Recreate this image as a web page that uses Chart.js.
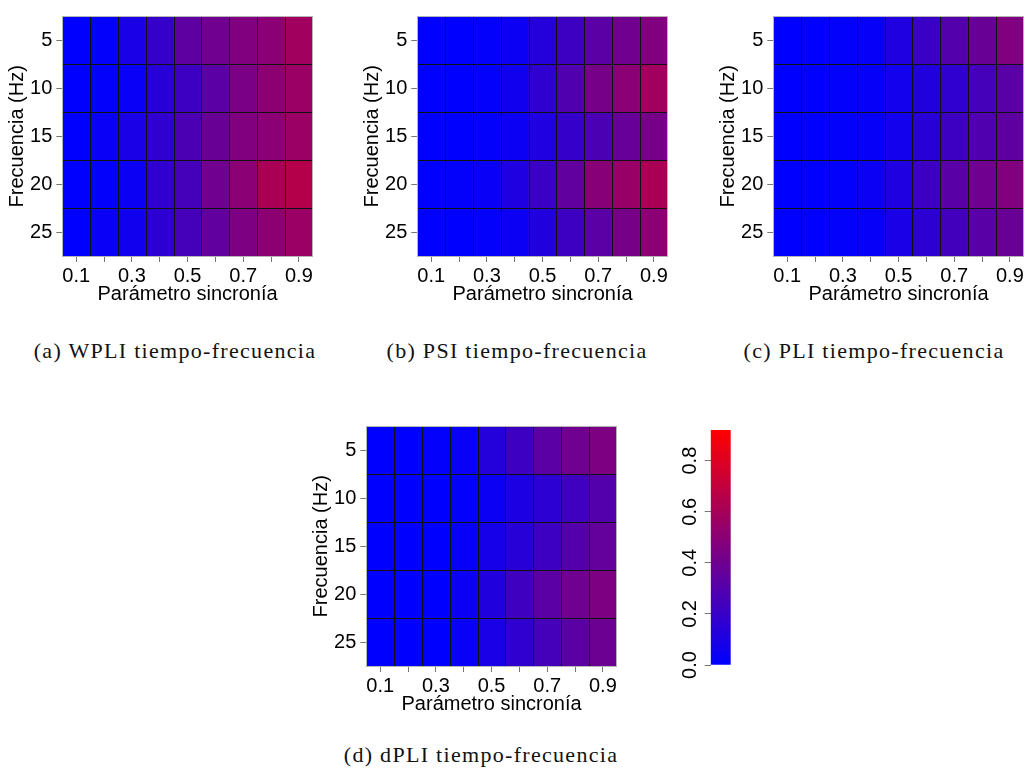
<!DOCTYPE html>
<html>
<head>
<meta charset="utf-8">
<script src="https://cdn.jsdelivr.net/npm/chart.js@4.4.1/dist/chart.umd.min.js"></script>
<style>
body { margin:0; width:1026px; height:774px; background:#fff; position:relative; overflow:hidden; }
canvas { position:absolute; }
.cap { position:absolute; font-family:'Liberation Serif','Times New Roman',serif; font-size:22px; letter-spacing:1.3px; color:#111; white-space:nowrap; transform:translateX(-50%); line-height:1; }
</style>
</head>
<body>
<canvas id="wpli" width="325" height="320" style="left:0px;top:0px"></canvas>
<canvas id="psi" width="325" height="320" style="left:355.4px;top:0px"></canvas>
<canvas id="pli" width="315" height="320" style="left:711px;top:0px"></canvas>
<canvas id="dpli" width="325" height="320" style="left:304.4px;top:409.7px"></canvas>
<canvas id="cbar" width="100" height="260" style="left:640px;top:420px"></canvas>

<div class="cap" style="left:175px;top:340px">(a) WPLI tiempo-frecuencia</div>
<div class="cap" style="left:517px;top:340px">(b) PSI tiempo-frecuencia</div>
<div class="cap" style="left:874px;top:340px">(c) PLI tiempo-frecuencia</div>
<div class="cap" style="left:481px;top:744px">(d) dPLI tiempo-frecuencia</div>

<script>
// axes
var syncLabels = ['0.1', '0.2', '0.3', '0.4', '0.5', '0.6', '0.7', '0.8', '0.9'];
var freqs = [5, 10, 15, 20, 25];
var cbTicks = [0, 0.2, 0.4, 0.6, 0.8];
var cbMax = 0.92;

// one row per frequency (5..25 Hz), one column per synchrony parameter
var wpliVals = [
	[0.00, 0.01, 0.09, 0.19, 0.34, 0.40, 0.46, 0.50, 0.58],
	[0.00, 0.01, 0.03, 0.14, 0.22, 0.33, 0.44, 0.51, 0.56],
	[0.00, 0.03, 0.09, 0.17, 0.27, 0.38, 0.46, 0.50, 0.56],
	[0.00, 0.01, 0.04, 0.17, 0.25, 0.40, 0.50, 0.61, 0.65],
	[0.00, 0.03, 0.06, 0.16, 0.25, 0.35, 0.45, 0.51, 0.56]
];
var psiVals = [
	[0.00, 0.00, 0.01, 0.04, 0.13, 0.22, 0.33, 0.40, 0.46],
	[0.00, 0.00, 0.01, 0.06, 0.17, 0.29, 0.43, 0.50, 0.58],
	[0.00, 0.00, 0.01, 0.04, 0.11, 0.19, 0.27, 0.37, 0.43],
	[0.00, 0.01, 0.03, 0.11, 0.21, 0.35, 0.49, 0.55, 0.61],
	[0.00, 0.00, 0.01, 0.04, 0.12, 0.22, 0.33, 0.43, 0.50]
];
var pliVals = [
	[0.00, 0.00, 0.01, 0.02, 0.11, 0.21, 0.30, 0.38, 0.46],
	[0.00, 0.00, 0.01, 0.02, 0.07, 0.12, 0.17, 0.25, 0.32],
	[0.00, 0.00, 0.01, 0.02, 0.07, 0.14, 0.22, 0.29, 0.34],
	[0.00, 0.00, 0.01, 0.04, 0.11, 0.22, 0.32, 0.40, 0.47],
	[0.00, 0.00, 0.01, 0.02, 0.09, 0.16, 0.24, 0.32, 0.38]
];
var dpliVals = [
	[0.00, 0.00, 0.01, 0.03, 0.13, 0.22, 0.33, 0.40, 0.45],
	[0.00, 0.00, 0.00, 0.01, 0.04, 0.10, 0.16, 0.23, 0.30],
	[0.00, 0.00, 0.00, 0.02, 0.08, 0.14, 0.22, 0.30, 0.36],
	[0.00, 0.00, 0.00, 0.04, 0.12, 0.23, 0.33, 0.40, 0.45],
	[0.00, 0.00, 0.00, 0.03, 0.09, 0.17, 0.25, 0.33, 0.39]
];

Chart.defaults.font.family = "'Liberation Sans', Arial, sans-serif";
Chart.defaults.font.size = 20;
Chart.defaults.color = '#000';
Chart.defaults.animation = false;

function heatColor(v) {
	var t = Math.max(0, Math.min(1, v / cbMax));
	return 'rgb(' + Math.round(255 * t) + ',0,' + Math.round(255 * (1 - t)) + ')';
}

// thin black lines between cells, placed with the chart's own scales
var cellLinesPlugin = {
	id: 'cellLines',
	afterDatasetsDraw: function(chart) {
		var x = chart.scales.x, y = chart.scales.y, a = chart.chartArea, ctx = chart.ctx;
		ctx.save();
		ctx.strokeStyle = '#111';
		ctx.lineWidth = 1;
		ctx.beginPath();
		for (var i = 0; i < syncLabels.length - 1; i++) {
			var px = Math.round((x.getPixelForValue(i) + x.getPixelForValue(i + 1)) / 2) + 0.5;
			ctx.moveTo(px, a.top);
			ctx.lineTo(px, a.bottom);
		}
		for (var r = 0; r < freqs.length - 1; r++) {
			var py = Math.round(y.getPixelForValue(freqs[r] + 2.5)) + 0.5;
			ctx.moveTo(a.left, py);
			ctx.lineTo(a.right, py);
		}
		ctx.stroke();
		// light grey box round the plot region
		ctx.strokeStyle = '#b4b4b4';
		ctx.strokeRect(Math.round(a.left) + 0.5, Math.round(a.top) + 0.5, Math.round(a.right - a.left) - 1, Math.round(a.bottom - a.top) - 1);
		ctx.restore();
	}
};

function makeHeatmap(id, values, padRight) {
	var datasets = freqs.map(function(f, r) {
		return {
			data: syncLabels.map(function() { return [f - 2.5, f + 2.5]; }),
			backgroundColor: values[r].map(heatColor),
			borderWidth: 0,
			inflateAmount: 0.6,
			barPercentage: 1,
			categoryPercentage: 1,
			grouped: false
		};
	});
	return new Chart(document.getElementById(id), {
		type: 'bar',
		data: { labels: syncLabels, datasets: datasets },
		options: {
			responsive: false,
			layout: { padding: { top: 5, right: padRight, left: 0, bottom: 0 } },
			plugins: { legend: { display: false }, tooltip: { enabled: false } },
			scales: {
				x: {
					type: 'category',
					offset: true,
					border: { display: false },
					grid: { offset: false, drawOnChartArea: false, tickLength: 5.5, color: '#777' },
					ticks: {
						autoSkip: false, maxRotation: 0, minRotation: 0, padding: 2,
						callback: function(val, i) { return i % 2 === 0 ? this.getLabelForValue(val) : ''; }
					},
					title: { display: true, text: 'Parámetro sincronía', font: { size: 20, lineHeight: 1.2 }, padding: { top: 0, bottom: 13.5 } },
					afterFit: function(scale) { scale.height = 63.5; }
				},
				y: {
					type: 'linear',
					reverse: true,
					min: 2.5,
					max: 27.5,
					border: { display: false },
					grid: { drawOnChartArea: false, tickLength: 6, color: '#777' },
					ticks: { padding: 4, callback: function(v) { return String(v); } },
					afterBuildTicks: function(scale) {
						scale.ticks = freqs.map(function(f) { return { value: f }; });
					},
					title: { display: true, text: 'Frecuencia (Hz)', font: { size: 20, lineHeight: 1.2 }, padding: { top: 5.5, bottom: 0 } },
					afterFit: function(scale) { scale.width = 62.3; }
				}
			}
		},
		plugins: [cellLinesPlugin]
	});
}

makeHeatmap('wpli', wpliVals, 12.2);
makeHeatmap('psi', psiVals, 12.2);
makeHeatmap('pli', pliVals, 2.2);
makeHeatmap('dpli', dpliVals, 12.2);

// colour bar: a single floating bar filled with the blue -> red ramp
var cbLabelsPlugin = {
	id: 'cbLabels',
	afterDraw: function(chart) {
		var s = chart.scales.y, ctx = chart.ctx;
		ctx.save();
		ctx.fillStyle = '#000';
		ctx.font = "20px 'Liberation Sans', Arial, sans-serif";
		ctx.textAlign = 'center';
		ctx.textBaseline = 'middle';
		cbTicks.forEach(function(v) {
			ctx.save();
			ctx.translate(s.right - 20, s.getPixelForValue(v));
			ctx.rotate(-Math.PI / 2);
			ctx.fillText(v.toFixed(1), 0, 0);
			ctx.restore();
		});
		ctx.restore();
	}
};

new Chart(document.getElementById('cbar'), {
	type: 'bar',
	data: {
		labels: [''],
		datasets: [{
			data: [[0, cbMax]],
			backgroundColor: function(ctx) {
				var chart = ctx.chart;
				if (!chart.chartArea) return 'blue';
				var y = chart.scales.y;
				var g = chart.ctx.createLinearGradient(0, y.getPixelForValue(0), 0, y.getPixelForValue(cbMax));
				g.addColorStop(0, heatColor(0));
				g.addColorStop(1, heatColor(cbMax));
				return g;
			},
			borderWidth: 0,
			barPercentage: 1,
			categoryPercentage: 1
		}]
	},
	options: {
		responsive: false,
		layout: { padding: { top: 10, right: 9.3, left: 0, bottom: 15 } },
		plugins: { legend: { display: false }, tooltip: { enabled: false } },
		scales: {
			x: { display: false },
			y: {
				min: 0,
				max: cbMax,
				border: { display: false },
				grid: { drawOnChartArea: false, tickLength: 6, color: '#777' },
				ticks: { display: false },
				afterBuildTicks: function(scale) {
					scale.ticks = cbTicks.map(function(v) { return { value: v }; });
				},
				afterFit: function(scale) { scale.width = 70.7; }
			}
		}
	},
	plugins: [cbLabelsPlugin]
});
</script>
</body>
</html>
